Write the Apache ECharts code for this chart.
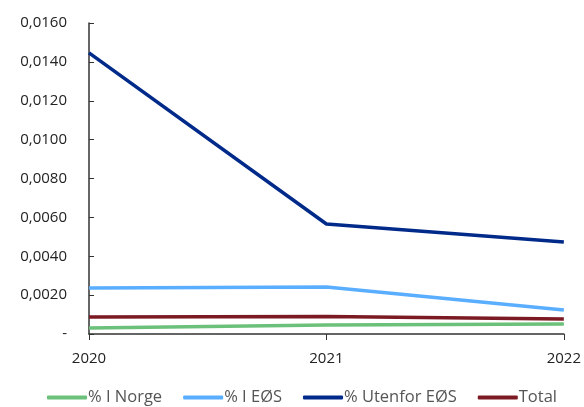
<!DOCTYPE html>
<html><head><meta charset="utf-8">
<script src="https://cdn.jsdelivr.net/npm/echarts@6/dist/echarts.min.js"></script>
<style>html,body{margin:0;padding:0;background:#fff}#c{width:584px;height:407px}</style>
</head><body><div id="c"></div>
<script>
const years = ['2020', '2021', '2022'];
const norge = [0.00031, 0.00046, 0.00051];
const eos = [0.00237, 0.00242, 0.00123];
const utenfor = [0.01446, 0.00566, 0.00473];
const total = [0.00087, 0.00090, 0.00077];
const names = ['% I Norge', '% I EØS', '% Utenfor EØS', 'Total'];
const colors = ['#6cc17a', '#5aaeff', '#002a8a', '#7b1a22'];
const FONT = 'Open Sans';
const chart = echarts.init(document.getElementById('c'));
const mk = (name, data, color) => ({
  name, type: 'line', data, symbol: 'none', color,
  lineStyle: { width: 3.5, color }, z: 2
});
chart.setOption({
  animation: false,
  grid: { left: 89, right: 19, top: 23, bottom: 73 },
  xAxis: {
    type: 'category', data: years, boundaryGap: false,
    axisLine: { lineStyle: { color: '#333', width: 1.5 } },
    axisTick: { show: true, length: 6, lineStyle: { color: '#333' } },
    axisLabel: { color: '#222', fontFamily: FONT, fontSize: 15, margin: 17 }
  },
  yAxis: {
    type: 'value', min: 0, max: 0.016, interval: 0.002,
    splitLine: { show: false },
    axisLine: { show: true, lineStyle: { color: '#333', width: 1.5 } },
    axisTick: { show: true, inside: true, length: 5, lineStyle: { color: '#333' } },
    axisLabel: {
      color: '#222', fontFamily: FONT, fontSize: 15, margin: 22,
      formatter: v => v === 0 ? '-' : v.toFixed(4).replace('.', ',')
    }
  },
  legend: {
    bottom: 1, left: 47, padding: 0, itemGap: 21, itemWidth: 40, itemHeight: 4,
    icon: 'roundRect',
    textStyle: { color: '#555', fontFamily: FONT, fontSize: 16.5, padding: [0, 0, 0, -4] },
    data: names
  },
  series: [
    mk(names[0], norge, colors[0]),
    mk(names[1], eos, colors[1]),
    mk(names[2], utenfor, colors[2]),
    mk(names[3], total, colors[3])
  ]
});
</script></body></html>
